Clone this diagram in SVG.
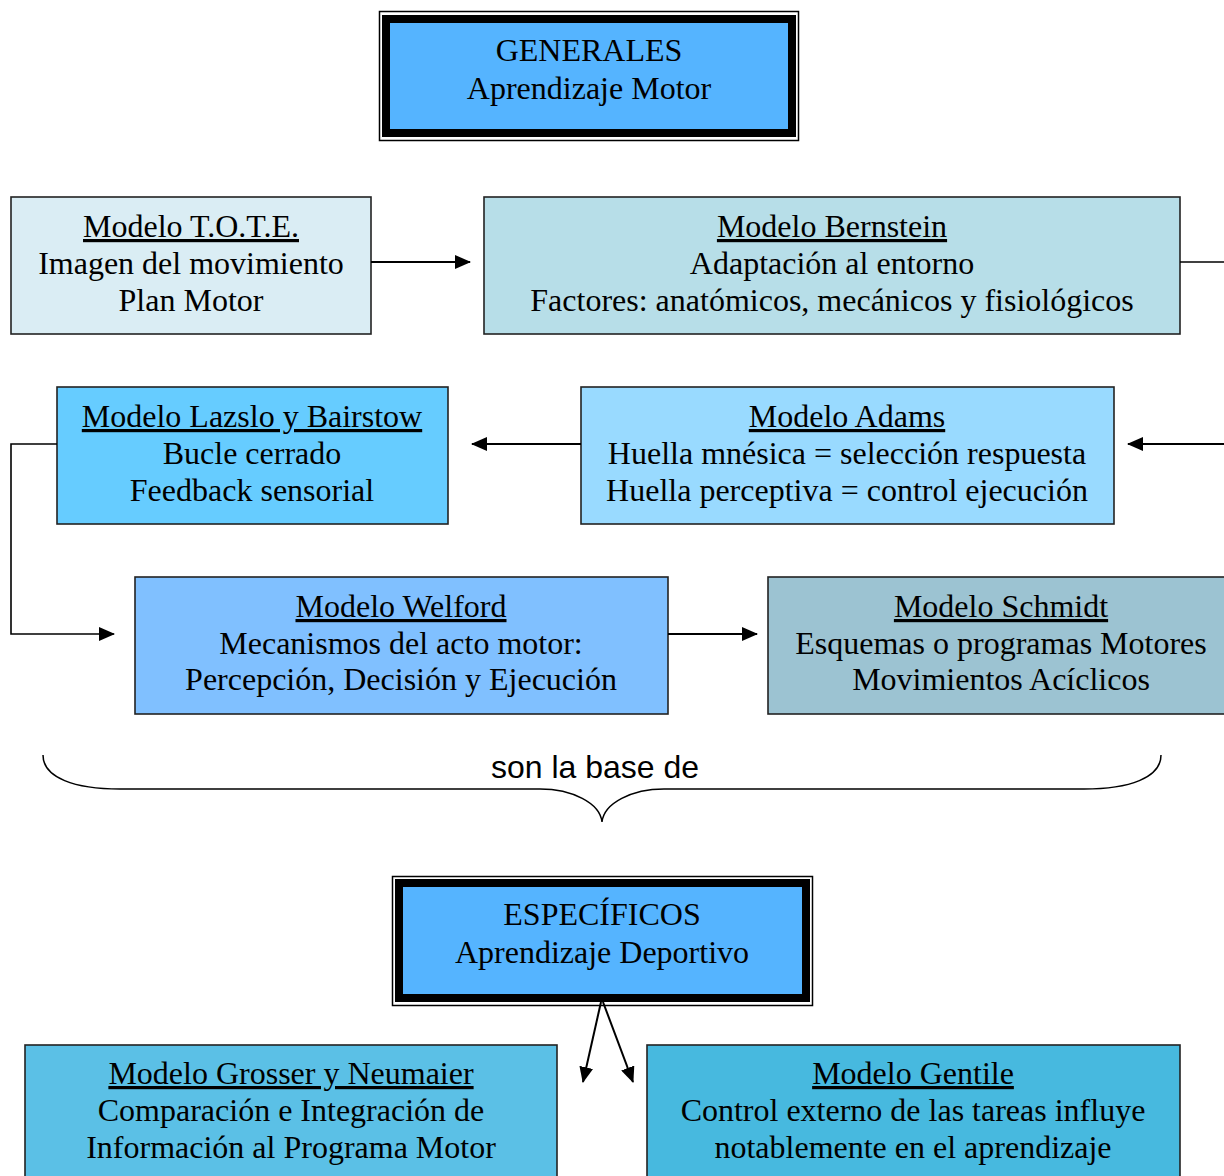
<svg xmlns="http://www.w3.org/2000/svg" width="1224" height="1176" viewBox="0 0 1224 1176">
<defs>
<marker id="ah" markerUnits="userSpaceOnUse" markerWidth="16" markerHeight="14" refX="15" refY="7" orient="auto">
<path d="M0,0 L16,7 L0,14 z" fill="#000"/>
</marker>
<style>
.box{stroke:#222;stroke-width:1.6}
.t{font-family:"Liberation Serif","Times New Roman",serif;font-size:32px;fill:#000;text-anchor:middle}
.u{text-decoration:underline}
.c{fill:none;stroke:#000;stroke-width:2}
.thin{fill:none;stroke:#000;stroke-width:1.5}
.thick{fill:#55b4ff;stroke:#000;stroke-width:8}
</style>
</defs>
<rect width="1224" height="1176" fill="#fff"/>

<g id="generales">
<rect class="thin" x="379.5" y="11.5" width="419" height="129"/>
<rect class="thick" x="386" y="19" width="406" height="114"/>
<text class="t" x="589" y="61">GENERALES</text>
<text class="t" x="589" y="99">Aprendizaje Motor</text>
</g>

<g id="tote">
<rect class="box" x="11" y="197" width="360" height="137" fill="#daedf4"/>
<text class="t" x="191" y="237"><tspan class="u">Modelo T.O.T.E.</tspan></text>
<text class="t" x="191" y="274">Imagen del movimiento</text>
<text class="t" x="191" y="311">Plan Motor</text>
</g>

<g id="bernstein">
<rect class="box" x="484" y="197" width="696" height="137" fill="#b7dee8"/>
<text class="t" x="832" y="237"><tspan class="u">Modelo Bernstein</tspan></text>
<text class="t" x="832" y="274">Adaptación al entorno</text>
<text class="t" x="832" y="311">Factores: anatómicos, mecánicos y fisiológicos</text>
</g>

<g id="lazslo">
<rect class="box" x="57" y="387" width="391" height="137" fill="#66ccff"/>
<text class="t" x="252" y="427"><tspan class="u">Modelo Lazslo y Bairstow</tspan></text>
<text class="t" x="252" y="464">Bucle cerrado</text>
<text class="t" x="252" y="501">Feedback sensorial</text>
</g>

<g id="adams">
<rect class="box" x="581" y="387" width="533" height="137" fill="#99daff"/>
<text class="t" x="847" y="427"><tspan class="u">Modelo Adams</tspan></text>
<text class="t" x="847" y="464">Huella mnésica = selección respuesta</text>
<text class="t" x="847" y="501">Huella perceptiva = control ejecución</text>
</g>

<g id="welford">
<rect class="box" x="135" y="577" width="533" height="137" fill="#80c0ff"/>
<text class="t" x="401" y="617"><tspan class="u">Modelo Welford</tspan></text>
<text class="t" x="401" y="654">Mecanismos del acto motor:</text>
<text class="t" x="401" y="690">Percepción, Decisión y Ejecución</text>
</g>

<g id="schmidt">
<rect class="box" x="768" y="577" width="470" height="137" fill="#9cc3d2"/>
<text class="t" x="1001" y="617"><tspan class="u">Modelo Schmidt</tspan></text>
<text class="t" x="1001" y="654">Esquemas o programas Motores</text>
<text class="t" x="1001" y="690">Movimientos Acíclicos</text>
</g>

<g id="brace">
<path class="thin" d="M43,755 C43,778 75,789 120,789 L540,789 C572,789 600,803 602,822 C604,803 632,789 664,789 L1084,789 C1129,789 1161,778 1161,755"/>
<text x="595" y="778" font-family="Liberation Sans, Arial, sans-serif" font-size="32" text-anchor="middle" textLength="208" lengthAdjust="spacingAndGlyphs">son la base de</text>
</g>

<g id="especificos">
<rect class="thin" x="392.5" y="876.5" width="420" height="129"/>
<rect class="thick" x="399" y="883" width="407" height="115"/>
<text class="t" x="602" y="925">ESPECÍFICOS</text>
<text class="t" x="602" y="963">Aprendizaje Deportivo</text>
</g>

<g id="grosser">
<rect class="box" x="25" y="1045" width="532" height="150" fill="#5bc0e6"/>
<text class="t" x="291" y="1084"><tspan class="u">Modelo Grosser y Neumaier</tspan></text>
<text class="t" x="291" y="1121">Comparación e Integración de</text>
<text class="t" x="291" y="1158">Información al Programa Motor</text>
</g>

<g id="gentile">
<rect class="box" x="647" y="1045" width="533" height="150" fill="#47b9df"/>
<text class="t" x="913" y="1084"><tspan class="u">Modelo Gentile</tspan></text>
<text class="t" x="913" y="1121">Control externo de las tareas influye</text>
<text class="t" x="913" y="1158">notablemente en el aprendizaje</text>
</g>

<g id="connectors">
<line class="c" x1="371" y1="262" x2="470" y2="262" marker-end="url(#ah)"/>
<line class="c" x1="1180" y1="262" x2="1226" y2="262" style="stroke-width:1.5"/>
<line class="c" x1="1226" y1="444" x2="1128" y2="444" marker-end="url(#ah)"/>
<line class="c" x1="581" y1="444" x2="472" y2="444" marker-end="url(#ah)"/>
<polyline class="c" points="57,444 11,444 11,634 114,634" marker-end="url(#ah)" style="stroke-width:1.6"/>
<line class="c" x1="668" y1="634" x2="757" y2="634" marker-end="url(#ah)"/>
<line class="c" x1="601" y1="1002" x2="583" y2="1082" marker-end="url(#ah)"/>
<line class="c" x1="603" y1="1002" x2="633" y2="1082" marker-end="url(#ah)"/>
</g>
</svg>
